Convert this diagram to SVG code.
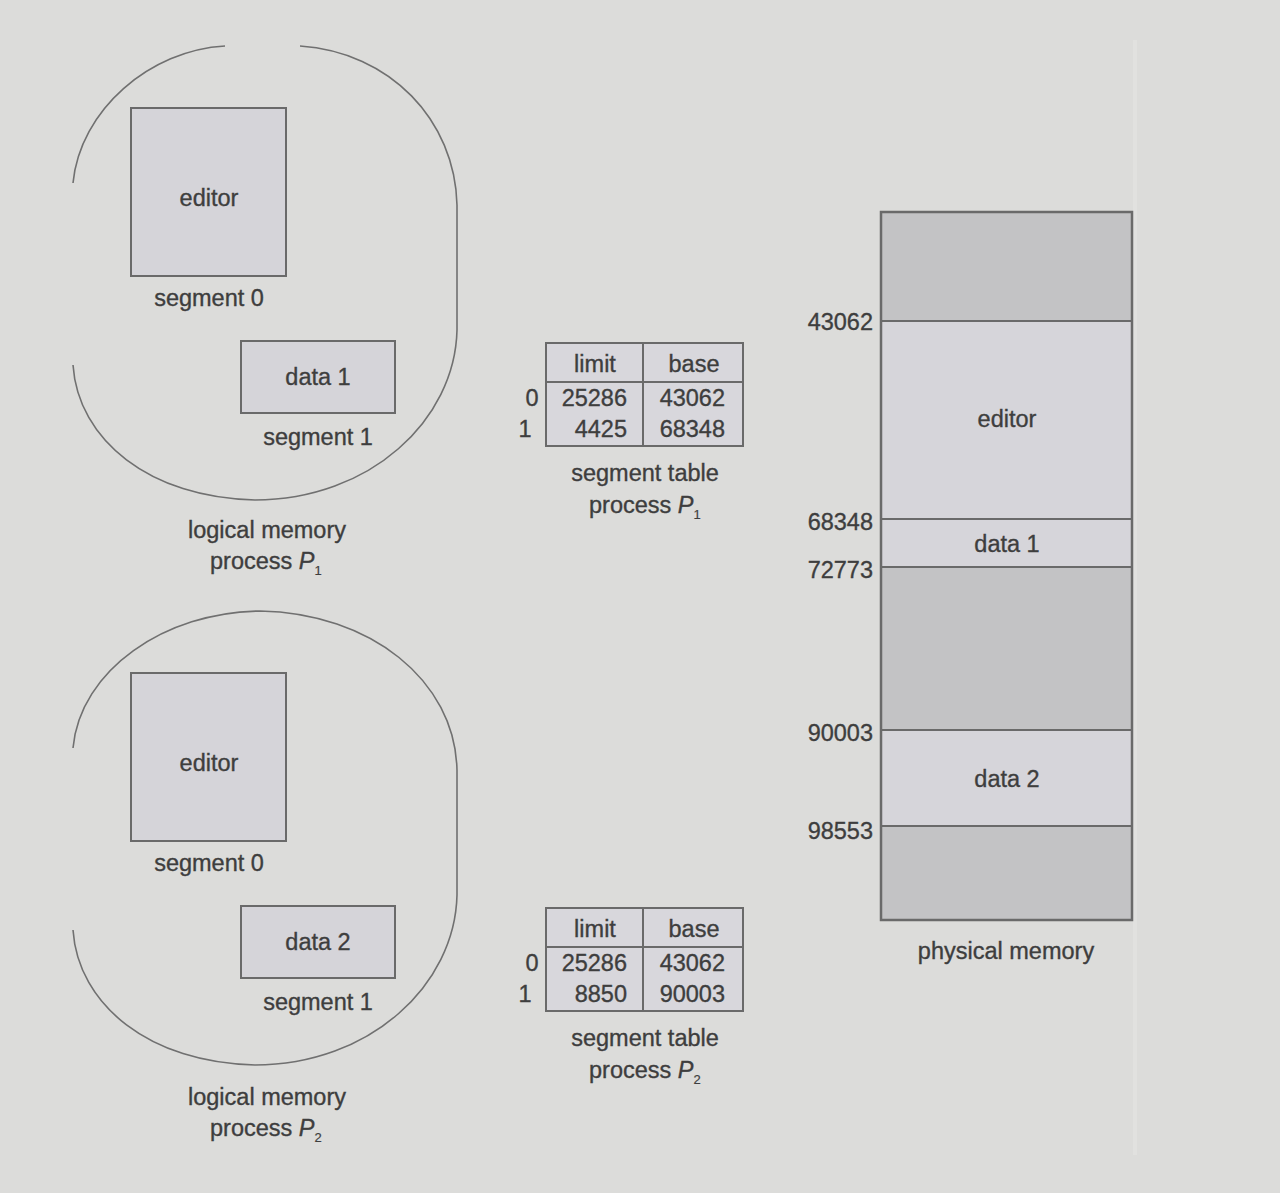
<svg xmlns="http://www.w3.org/2000/svg" width="1280" height="1193" viewBox="0 0 1280 1193">
<style>
  text { font-family: "Liberation Sans", Arial, sans-serif; font-size: 23.5px; fill: #3e3e3e; stroke: #3e3e3e; stroke-width: 0.35; }
  .c { text-anchor: middle; }
  .r { text-anchor: end; }
  .box { fill: #d5d4d9; stroke: #6a6a6a; stroke-width: 2; }
  .blob { fill: none; stroke: #707070; stroke-width: 1.6; }
  .tbl { fill: #d8d7dc; stroke: #6a6a6a; stroke-width: 2; }
  .ln { stroke: #6a6a6a; stroke-width: 2; }
  .dark { fill: #c3c3c5; }
  .light { fill: #d6d5da; }
  .sub { font-size: 13px; stroke-width: 0.2; }
  .it { font-style: italic; }
</style>
<rect x="0" y="0" width="1280" height="1193" fill="#dcdcda"/>
<line x1="1135" y1="40" x2="1135" y2="1155" stroke="#e1e1df" stroke-width="4"/>

<!-- Process 1 logical memory -->
<g id="logical1">
  <path class="blob" d="M73,183 C80,110 150,50 225,46"/>
  <path class="blob" d="M300,46 C390,52 455,120 457,205 L457,330 C455,420 370,500 255,500 C150,498 78,440 73,365"/>
  <g id="p1-seg0">
    <rect class="box" x="131" y="108" width="155" height="168"/>
    <text class="c" x="209" y="206">editor</text>
    <text class="c" x="209" y="306">segment 0</text>
  </g>
  <g id="p1-seg1">
    <rect class="box" x="241" y="341" width="154" height="72"/>
    <text class="c" x="318" y="385">data 1</text>
    <text class="c" x="318" y="445">segment 1</text>
  </g>
  <text class="c" x="267" y="538">logical memory</text>
  <text x="210" y="569">process <tspan class="it">P</tspan><tspan class="sub" dy="6">1</tspan></text>
</g>

<!-- Process 2 logical memory -->
<g id="logical2">
  <path class="blob" d="M73,748 C80,670 165,612 260,611 C370,613 455,680 457,770 L457,895 C455,985 370,1065 255,1065 C150,1063 78,1005 73,930"/>
  <g id="p2-seg0">
    <rect class="box" x="131" y="673" width="155" height="168"/>
    <text class="c" x="209" y="771">editor</text>
    <text class="c" x="209" y="871">segment 0</text>
  </g>
  <g id="p2-seg1">
    <rect class="box" x="241" y="906" width="154" height="72"/>
    <text class="c" x="318" y="950">data 2</text>
    <text class="c" x="318" y="1010">segment 1</text>
  </g>
  <text class="c" x="267" y="1105">logical memory</text>
  <text x="210" y="1136">process <tspan class="it">P</tspan><tspan class="sub" dy="6">2</tspan></text>
</g>

<!-- Segment table P1 -->
<g id="table1">
  <rect class="tbl" x="546" y="343" width="197" height="103"/>
  <line class="ln" x1="546" y1="382" x2="743" y2="382"/>
  <line class="ln" x1="643" y1="343" x2="643" y2="446"/>
  <text class="c" x="595" y="372">limit</text>
  <text class="c" x="694" y="372">base</text>
  <text class="c" x="532" y="406">0</text>
  <text class="c" x="525" y="437">1</text>
  <text class="r" x="627" y="406">25286</text>
  <text class="r" x="627" y="437">4425</text>
  <text class="r" x="725" y="406">43062</text>
  <text class="r" x="725" y="437">68348</text>
  <text class="c" x="645" y="481">segment table</text>
  <text x="589" y="513">process <tspan class="it">P</tspan><tspan class="sub" dy="6">1</tspan></text>
</g>

<!-- Segment table P2 -->
<g id="table2">
  <rect class="tbl" x="546" y="908" width="197" height="103"/>
  <line class="ln" x1="546" y1="947" x2="743" y2="947"/>
  <line class="ln" x1="643" y1="908" x2="643" y2="1011"/>
  <text class="c" x="595" y="937">limit</text>
  <text class="c" x="694" y="937">base</text>
  <text class="c" x="532" y="971">0</text>
  <text class="c" x="525" y="1002">1</text>
  <text class="r" x="627" y="971">25286</text>
  <text class="r" x="627" y="1002">8850</text>
  <text class="r" x="725" y="971">43062</text>
  <text class="r" x="725" y="1002">90003</text>
  <text class="c" x="645" y="1046">segment table</text>
  <text x="589" y="1078">process <tspan class="it">P</tspan><tspan class="sub" dy="6">2</tspan></text>
</g>

<!-- Physical memory -->
<g id="physical">
  <rect class="dark" x="881" y="212" width="251" height="109"/>
  <rect class="light" x="881" y="321" width="251" height="198"/>
  <rect class="light" x="881" y="519" width="251" height="48"/>
  <rect class="dark" x="881" y="567" width="251" height="163"/>
  <rect class="light" x="881" y="730" width="251" height="96"/>
  <rect class="dark" x="881" y="826" width="251" height="94"/>
  <line class="ln" x1="881" y1="321" x2="1132" y2="321"/>
  <line class="ln" x1="881" y1="519" x2="1132" y2="519"/>
  <line class="ln" x1="881" y1="567" x2="1132" y2="567"/>
  <line class="ln" x1="881" y1="730" x2="1132" y2="730"/>
  <line class="ln" x1="881" y1="826" x2="1132" y2="826"/>
  <rect x="881" y="212" width="251" height="708" fill="none" stroke="#6a6a6a" stroke-width="2.5"/>
  <text class="c" x="1007" y="427">editor</text>
  <text class="c" x="1007" y="552">data 1</text>
  <text class="c" x="1007" y="787">data 2</text>
  <text class="r" x="873" y="330">43062</text>
  <text class="r" x="873" y="530">68348</text>
  <text class="r" x="873" y="578">72773</text>
  <text class="r" x="873" y="741">90003</text>
  <text class="r" x="873" y="839">98553</text>
  <text class="c" x="1006" y="959">physical memory</text>
</g>

<g id="connectors"></g>
</svg>
